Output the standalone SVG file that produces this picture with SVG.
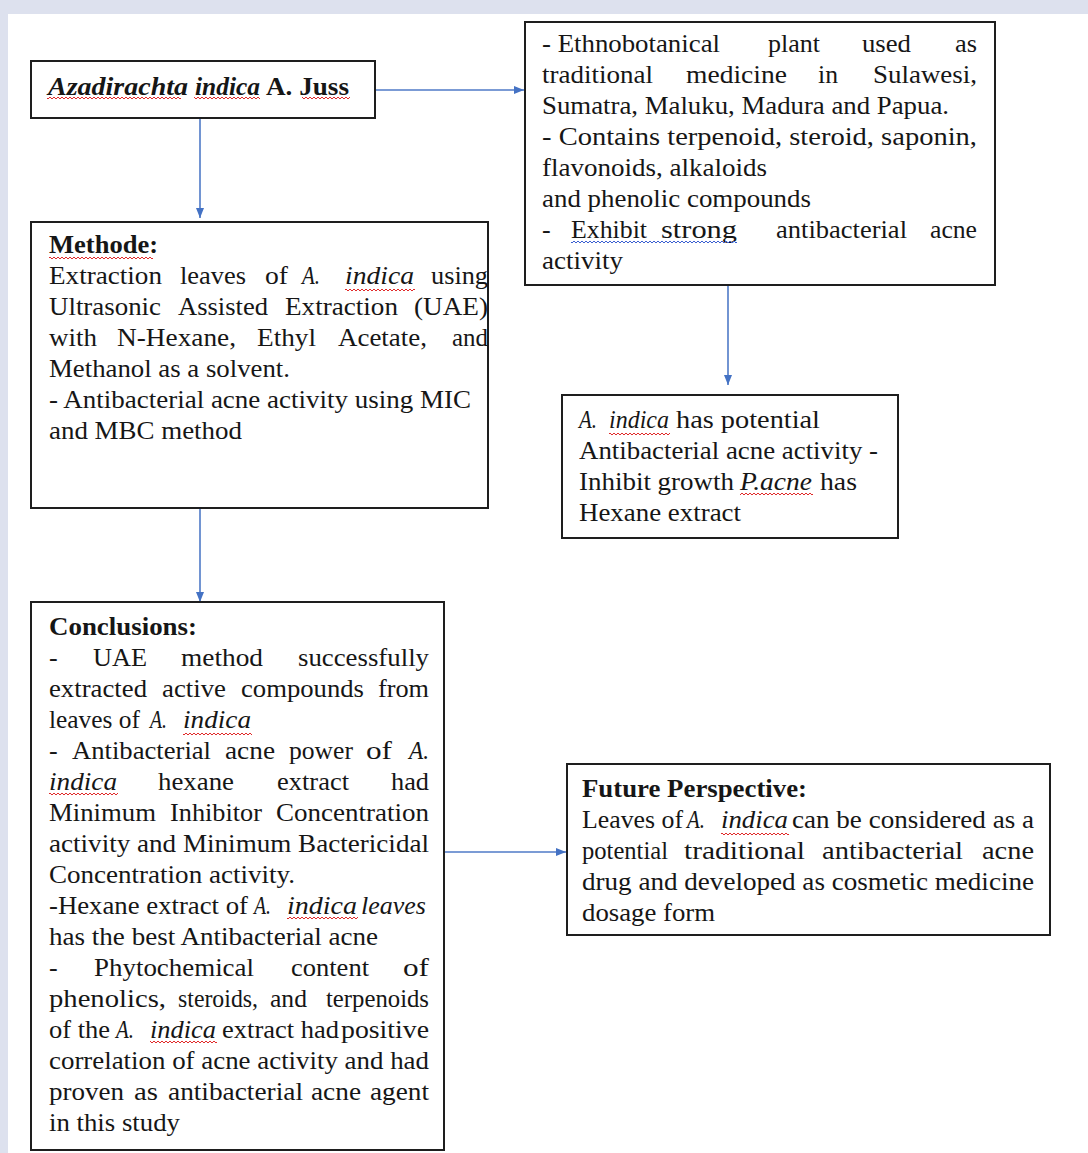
<svg xmlns="http://www.w3.org/2000/svg" width="1088" height="1153" viewBox="0 0 1088 1153">
<style>
.t{font-family:"Liberation Serif","Times New Roman",serif;font-size:26px;fill:#161616}
.i{font-style:italic}
.b{font-weight:bold}
.box{fill:#fff;stroke:#1e1e1e;stroke-width:2}
.c{fill:none;stroke:#4f7ac7;stroke-width:1.6}
</style>
<defs>
<marker id="ah" viewBox="0 0 10 10" refX="10" refY="5" markerWidth="10" markerHeight="10" markerUnits="userSpaceOnUse" orient="auto"><path d="M0,1 L10,5 L0,9 z" fill="#4472C4"/></marker>
<pattern id="wr" width="4" height="4" patternUnits="userSpaceOnUse"><path d="M0,3 L2,1 L4,3" fill="none" stroke="#e02a2a" stroke-width="1"/></pattern>
<pattern id="wb" width="4" height="4" patternUnits="userSpaceOnUse"><path d="M0,3 L2,1 L4,3" fill="none" stroke="#3a5fd0" stroke-width="1"/></pattern>
</defs>
<rect x="0" y="0" width="1088" height="1153" fill="#ffffff"/>
<rect x="0" y="0" width="1088" height="14" fill="#dde1ee"/>
<rect x="0" y="0" width="8" height="1153" fill="#dde1ee"/>

<g id="connectors">
<line class="c" x1="375" y1="90" x2="524" y2="90" marker-end="url(#ah)"/>
<line class="c" x1="200" y1="118" x2="200" y2="218" marker-end="url(#ah)"/>
<line class="c" x1="728" y1="285" x2="728" y2="385" marker-end="url(#ah)"/>
<line class="c" x1="200" y1="508" x2="200" y2="602" marker-end="url(#ah)"/>
<line class="c" x1="444" y1="852" x2="566" y2="852" marker-end="url(#ah)"/>
</g>

<g id="n-azadirachta">
<rect class="box" x="31" y="61" width="344" height="57"/>
<text class="t b i" x="48" y="95" textLength="140" lengthAdjust="spacingAndGlyphs">Azadirachta</text>
<text class="t b i" x="195" y="95" textLength="65" lengthAdjust="spacingAndGlyphs">indica</text>
<text class="t b" x="266" y="95" textLength="83" lengthAdjust="spacingAndGlyphs">A. Juss</text>
<rect x="47" y="96" width="134" height="4" fill="url(#wr)"/>
<rect x="194" y="96" width="66" height="4" fill="url(#wr)"/>
<rect x="302" y="96" width="48" height="4" fill="url(#wr)"/>
</g>

<g id="n-ethno">
<rect class="box" x="525" y="22" width="470" height="263"/>
<text class="t" x="542" y="52" textLength="178" lengthAdjust="spacingAndGlyphs">- Ethnobotanical</text>
<text class="t" x="768" y="52" textLength="52" lengthAdjust="spacingAndGlyphs">plant</text>
<text class="t" x="862" y="52" textLength="49" lengthAdjust="spacingAndGlyphs">used</text>
<text class="t" x="955" y="52" textLength="22" lengthAdjust="spacingAndGlyphs">as</text>
<text class="t" x="542" y="83" textLength="111" lengthAdjust="spacingAndGlyphs">traditional</text>
<text class="t" x="686" y="83" textLength="101" lengthAdjust="spacingAndGlyphs">medicine</text>
<text class="t" x="818" y="83" textLength="20" lengthAdjust="spacingAndGlyphs">in</text>
<text class="t" x="873" y="83" textLength="104" lengthAdjust="spacingAndGlyphs">Sulawesi,</text>
<text class="t" x="542" y="114" textLength="407" lengthAdjust="spacingAndGlyphs">Sumatra, Maluku, Madura and Papua.</text>
<text class="t" x="542" y="145" textLength="435" lengthAdjust="spacingAndGlyphs">- Contains terpenoid, steroid, saponin,</text>
<text class="t" x="542" y="176" textLength="225" lengthAdjust="spacingAndGlyphs">flavonoids, alkaloids</text>
<text class="t" x="542" y="207" textLength="269" lengthAdjust="spacingAndGlyphs">and phenolic compounds</text>
<text class="t" x="542" y="238">-</text>
<text class="t" x="571" y="238" textLength="76" lengthAdjust="spacingAndGlyphs">Exhibit</text>
<text class="t" x="661" y="238" textLength="76" lengthAdjust="spacingAndGlyphs">strong</text>
<text class="t" x="776" y="238" textLength="131" lengthAdjust="spacingAndGlyphs">antibacterial</text>
<text class="t" x="930" y="238" textLength="47" lengthAdjust="spacingAndGlyphs">acne</text>
<rect x="571" y="240" width="166" height="4" fill="url(#wb)"/>
<text class="t" x="542" y="269" textLength="81" lengthAdjust="spacingAndGlyphs">activity</text>
</g>

<g id="n-methode">
<rect class="box" x="31" y="222" width="457" height="286"/>
<text class="t b" x="49" y="253" textLength="109" lengthAdjust="spacingAndGlyphs">Methode:</text>
<rect x="49" y="256" width="104" height="4" fill="url(#wr)"/>
<text class="t" x="49" y="284" textLength="113" lengthAdjust="spacingAndGlyphs">Extraction</text>
<text class="t" x="180" y="284" textLength="66" lengthAdjust="spacingAndGlyphs">leaves</text>
<text class="t" x="265" y="284" textLength="23" lengthAdjust="spacingAndGlyphs">of</text>
<text class="t i" x="302" y="284" textLength="18" lengthAdjust="spacingAndGlyphs">A.</text>
<text class="t i" x="345" y="284" textLength="69" lengthAdjust="spacingAndGlyphs">indica</text>
<rect x="345" y="288" width="70" height="4" fill="url(#wr)"/>
<text class="t" x="431" y="284" textLength="57" lengthAdjust="spacingAndGlyphs">using</text>
<text class="t" x="49" y="315" textLength="112" lengthAdjust="spacingAndGlyphs">Ultrasonic</text>
<text class="t" x="178" y="315" textLength="90" lengthAdjust="spacingAndGlyphs">Assisted</text>
<text class="t" x="285" y="315" textLength="113" lengthAdjust="spacingAndGlyphs">Extraction</text>
<text class="t" x="414" y="315" textLength="74" lengthAdjust="spacingAndGlyphs">(UAE)</text>
<text class="t" x="49" y="346" textLength="48" lengthAdjust="spacingAndGlyphs">with</text>
<text class="t" x="117" y="346" textLength="119" lengthAdjust="spacingAndGlyphs">N-Hexane,</text>
<text class="t" x="257" y="346" textLength="59" lengthAdjust="spacingAndGlyphs">Ethyl</text>
<text class="t" x="338" y="346" textLength="89" lengthAdjust="spacingAndGlyphs">Acetate,</text>
<text class="t" x="452" y="346" textLength="36" lengthAdjust="spacingAndGlyphs">and</text>
<text class="t" x="49" y="377" textLength="241" lengthAdjust="spacingAndGlyphs">Methanol as a solvent.</text>
<text class="t" x="49" y="408" textLength="422" lengthAdjust="spacingAndGlyphs">- Antibacterial acne activity using MIC</text>
<text class="t" x="49" y="439" textLength="193" lengthAdjust="spacingAndGlyphs">and MBC method</text>
</g>

<g id="n-potential">
<rect class="box" x="562" y="395" width="336" height="143"/>
<text class="t i" x="579" y="428" textLength="18" lengthAdjust="spacingAndGlyphs">A.</text>
<text class="t i" x="609" y="428" textLength="60" lengthAdjust="spacingAndGlyphs">indica</text>
<rect x="609" y="432" width="61" height="4" fill="url(#wr)"/>
<text class="t" x="676" y="428" textLength="144" lengthAdjust="spacingAndGlyphs">has potential</text>
<text class="t" x="579" y="459" textLength="299" lengthAdjust="spacingAndGlyphs">Antibacterial acne activity -</text>
<text class="t" x="579" y="490" textLength="155" lengthAdjust="spacingAndGlyphs">Inhibit growth</text>
<text class="t i" x="740" y="490" textLength="72" lengthAdjust="spacingAndGlyphs">P.acne</text>
<rect x="740" y="492" width="73" height="4" fill="url(#wr)"/>
<text class="t" x="820" y="490" textLength="37" lengthAdjust="spacingAndGlyphs">has</text>
<text class="t" x="579" y="521" textLength="162" lengthAdjust="spacingAndGlyphs">Hexane extract</text>
</g>

<g id="n-conclusions">
<rect class="box" x="31" y="602" width="413" height="548"/>
<text class="t b" x="49" y="635" textLength="148" lengthAdjust="spacingAndGlyphs">Conclusions:</text>
<text class="t" x="49" y="666">-</text>
<text class="t" x="93" y="666" textLength="54" lengthAdjust="spacingAndGlyphs">UAE</text>
<text class="t" x="181" y="666" textLength="82" lengthAdjust="spacingAndGlyphs">method</text>
<text class="t" x="298" y="666" textLength="131" lengthAdjust="spacingAndGlyphs">successfully</text>
<text class="t" x="49" y="697" textLength="98" lengthAdjust="spacingAndGlyphs">extracted</text>
<text class="t" x="162" y="697" textLength="64" lengthAdjust="spacingAndGlyphs">active</text>
<text class="t" x="241" y="697" textLength="123" lengthAdjust="spacingAndGlyphs">compounds</text>
<text class="t" x="378" y="697" textLength="51" lengthAdjust="spacingAndGlyphs">from</text>
<text class="t" x="49" y="728" textLength="91" lengthAdjust="spacingAndGlyphs">leaves of</text>
<text class="t i" x="150" y="728" textLength="17" lengthAdjust="spacingAndGlyphs">A.</text>
<text class="t i" x="183" y="728" textLength="68" lengthAdjust="spacingAndGlyphs">indica</text>
<rect x="183" y="732" width="69" height="4" fill="url(#wr)"/>
<text class="t" x="49" y="759">-</text>
<text class="t" x="72" y="759" textLength="139" lengthAdjust="spacingAndGlyphs">Antibacterial</text>
<text class="t" x="225" y="759" textLength="50" lengthAdjust="spacingAndGlyphs">acne</text>
<text class="t" x="289" y="759" textLength="64" lengthAdjust="spacingAndGlyphs">power</text>
<text class="t" x="366" y="759" textLength="26" lengthAdjust="spacingAndGlyphs">of</text>
<text class="t i" x="409" y="759" textLength="20" lengthAdjust="spacingAndGlyphs">A.</text>
<text class="t i" x="49" y="790" textLength="68" lengthAdjust="spacingAndGlyphs">indica</text>
<rect x="49" y="792" width="69" height="4" fill="url(#wr)"/>
<text class="t" x="158" y="790" textLength="76" lengthAdjust="spacingAndGlyphs">hexane</text>
<text class="t" x="277" y="790" textLength="72" lengthAdjust="spacingAndGlyphs">extract</text>
<text class="t" x="391" y="790" textLength="38" lengthAdjust="spacingAndGlyphs">had</text>
<text class="t" x="49" y="821" textLength="107" lengthAdjust="spacingAndGlyphs">Minimum</text>
<text class="t" x="170" y="821" textLength="92" lengthAdjust="spacingAndGlyphs">Inhibitor</text>
<text class="t" x="276" y="821" textLength="153" lengthAdjust="spacingAndGlyphs">Concentration</text>
<text class="t" x="49" y="852" textLength="380" lengthAdjust="spacingAndGlyphs">activity and Minimum Bactericidal</text>
<text class="t" x="49" y="883" textLength="246" lengthAdjust="spacingAndGlyphs">Concentration activity.</text>
<text class="t" x="49" y="914" textLength="199" lengthAdjust="spacingAndGlyphs">-Hexane extract of</text>
<text class="t i" x="254" y="914" textLength="17" lengthAdjust="spacingAndGlyphs">A.</text>
<text class="t i" x="287" y="914" textLength="70" lengthAdjust="spacingAndGlyphs">indica</text>
<rect x="287" y="916" width="71" height="4" fill="url(#wr)"/>
<text class="t i" x="361" y="914" textLength="65" lengthAdjust="spacingAndGlyphs">leaves</text>
<text class="t" x="49" y="945" textLength="329" lengthAdjust="spacingAndGlyphs">has the best Antibacterial acne</text>
<text class="t" x="49" y="976">-</text>
<text class="t" x="94" y="976" textLength="160" lengthAdjust="spacingAndGlyphs">Phytochemical</text>
<text class="t" x="291" y="976" textLength="78" lengthAdjust="spacingAndGlyphs">content</text>
<text class="t" x="403" y="976" textLength="26" lengthAdjust="spacingAndGlyphs">of</text>
<text class="t" x="49" y="1007" textLength="117" lengthAdjust="spacingAndGlyphs">phenolics,</text>
<text class="t" x="178" y="1007" textLength="80" lengthAdjust="spacingAndGlyphs">steroids,</text>
<text class="t" x="270" y="1007" textLength="37" lengthAdjust="spacingAndGlyphs">and</text>
<text class="t" x="326" y="1007" textLength="103" lengthAdjust="spacingAndGlyphs">terpenoids</text>
<text class="t" x="49" y="1038" textLength="61" lengthAdjust="spacingAndGlyphs">of the</text>
<text class="t i" x="116" y="1038" textLength="18" lengthAdjust="spacingAndGlyphs">A.</text>
<text class="t i" x="150" y="1038" textLength="66" lengthAdjust="spacingAndGlyphs">indica</text>
<rect x="150" y="1040" width="67" height="4" fill="url(#wr)"/>
<text class="t" x="222" y="1038" textLength="117" lengthAdjust="spacingAndGlyphs">extract had</text>
<text class="t" x="341" y="1038" textLength="88" lengthAdjust="spacingAndGlyphs">positive</text>
<text class="t" x="49" y="1069" textLength="380" lengthAdjust="spacingAndGlyphs">correlation of acne activity and had</text>
<text class="t" x="49" y="1100" textLength="75" lengthAdjust="spacingAndGlyphs">proven</text>
<text class="t" x="134" y="1100" textLength="24" lengthAdjust="spacingAndGlyphs">as</text>
<text class="t" x="168" y="1100" textLength="135" lengthAdjust="spacingAndGlyphs">antibacterial</text>
<text class="t" x="311" y="1100" textLength="50" lengthAdjust="spacingAndGlyphs">acne</text>
<text class="t" x="370" y="1100" textLength="59" lengthAdjust="spacingAndGlyphs">agent</text>
<text class="t" x="49" y="1131" textLength="131" lengthAdjust="spacingAndGlyphs">in this study</text>
</g>

<g id="n-future">
<rect class="box" x="567" y="764" width="483" height="171"/>
<text class="t b" x="582" y="797" textLength="225" lengthAdjust="spacingAndGlyphs">Future Perspective:</text>
<text class="t" x="582" y="828" textLength="101" lengthAdjust="spacingAndGlyphs">Leaves of</text>
<text class="t i" x="687" y="828" textLength="18" lengthAdjust="spacingAndGlyphs">A.</text>
<text class="t i" x="721" y="828" textLength="67" lengthAdjust="spacingAndGlyphs">indica</text>
<rect x="721" y="832" width="68" height="4" fill="url(#wr)"/>
<text class="t" x="792" y="828" textLength="242" lengthAdjust="spacingAndGlyphs">can be considered as a</text>
<text class="t" x="582" y="859" textLength="86" lengthAdjust="spacingAndGlyphs">potential</text>
<text class="t" x="684" y="859" textLength="121" lengthAdjust="spacingAndGlyphs">traditional</text>
<text class="t" x="822" y="859" textLength="141" lengthAdjust="spacingAndGlyphs">antibacterial</text>
<text class="t" x="982" y="859" textLength="52" lengthAdjust="spacingAndGlyphs">acne</text>
<text class="t" x="582" y="890" textLength="452" lengthAdjust="spacingAndGlyphs">drug and developed as cosmetic medicine</text>
<text class="t" x="582" y="921" textLength="133" lengthAdjust="spacingAndGlyphs">dosage form</text>
</g>
</svg>
